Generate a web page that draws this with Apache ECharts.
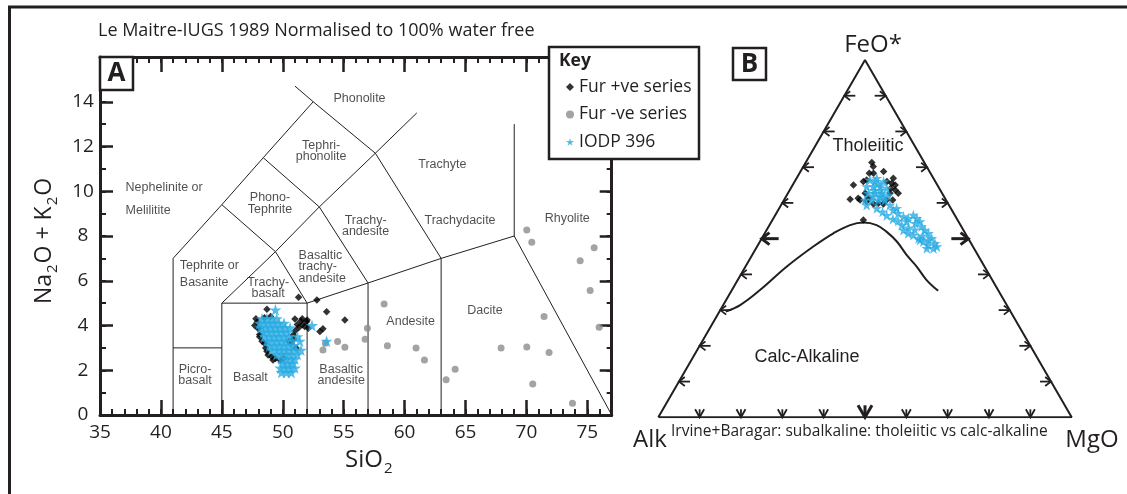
<!DOCTYPE html>
<html><head><meta charset="utf-8">
<script src="https://cdn.jsdelivr.net/npm/echarts@6/dist/echarts.min.js"></script>
<style>html,body{margin:0;padding:0;background:#fff}#c{width:1127px;height:494px}</style>
</head><body><div id="c"></div>
<script>
// ---------------- DATA ----------------
// TAS axis range / ticks
const tasSiO2Range = [35, 77];
const tasAlkRange = [0, 16];
// TAS classification field boundaries (SiO2, Na2O+K2O), Le Maitre 1989
const tasFieldLines = [
  [[41,0],[41,7],[45,9.4],[48.4,11.5],[52.5,14]],
  [[51,14.7],[52.5,14],[57.6,11.7],[63,7]],
  [[41,3],[45,3]],
  [[45,0],[45,5],[52,5]],
  [[52,5],[52,0]],
  [[45,5],[49.4,7.3],[52,5]],
  [[52,5],[57,5.9],[63,7],[69,8],[77,0]],
  [[57,0],[57,5.9]],
  [[63,0],[63,7]],
  [[45,9.4],[49.4,7.3],[53,9.3],[57,5.9]],
  [[48.4,11.5],[53,9.3],[57.6,11.7],[61,13.5]],
  [[69,8],[69,13]]
];
// TAS field names and anchor (SiO2, alkali); align
const tasLabelText = ['Phonolite','Tephri-\nphonolite','Trachyte','Nephelinite or','Melilitite','Phono-\nTephrite','Trachy-\nandesite','Trachydacite','Rhyolite','Tephrite or','Basanite','Basaltic\ntrachy-\nandesite','Trachy-\nbasalt','Andesite','Dacite','Picro-\nbasalt','Basalt','Basaltic\nandesite'];
const tasLabelSiO2 = [56.3,53.15,63.1,37.1,37.1,48.95,56.8,64.55,73.35,41.55,41.55,51.3,48.8,60.5,66.6,42.8,47.35,54.8];
const tasLabelAlk  = [14.15,11.8,11.2,10.15,9.15,9.45,8.45,8.7,8.8,6.66,5.9,6.63,5.67,4.17,4.65,1.79,1.69,1.79];
const tasLabelAlign = ['center','center','center','left','left','center','center','center','center','left','left','left','center','center','center','center','center','center'];

// Fur +ve series (black diamonds) in TAS
const furPosSiO2 = [48.7,51.3,52.8,53.6,55.1,51.0,53.05,53.3,47.8,47.9,47.7,48.0,48.1,48.1,48.3,48.5,48.6,48.7,48.8,49.1,49.4,49.8,50.7,50.85,51.0,51.3,51.6,51.95,52.1,51.8,51.5,51.2,50.9,51.1,50.5,49.0,48.5,51.6,52.0,49.2,50.05];
const furPosAlk  = [4.73,5.26,5.14,4.62,4.25,4.29,3.73,3.85,4.3,4.15,4.0,3.85,3.6,3.5,3.3,3.2,3.0,2.85,2.68,2.6,2.53,2.45,3.2,3.58,3.75,3.9,4.03,4.17,3.88,3.95,4.2,4.05,3.4,3.0,3.3,4.4,4.35,4.3,4.25,2.46,2.53];
// Fur -ve series (grey circles) in TAS
const furNegSiO2 = [70.03,70.44,75.56,74.41,75.23,58.32,56.95,56.76,58.59,60.94,61.63,64.15,63.41,71.45,75.97,67.92,70.03,71.86,70.52,73.78,54.5,55.1,53.5,53.3];
const furNegAlk  = [8.27,7.72,7.48,6.89,5.56,4.96,3.88,3.39,3.10,3.00,2.46,2.04,1.57,4.40,3.92,3.00,3.04,2.79,1.39,0.52,3.28,3.03,3.21,2.91];
// IODP 396 (blue stars) in TAS
const iodpSiO2 = [49.4, 48.3,48.7,49.1,49.5, 48.1,48.5,48.9,49.3,49.7,50.1, 48.2,48.6,49.0,49.4,49.8,50.2,50.6, 48.4,48.8,49.2,49.6,50.0,50.4, 48.5,48.9,49.3,49.7,50.1,50.5,51.2, 48.7,49.1,49.5,49.9,50.3,50.8,51.4, 48.9,49.3,49.7,50.1,50.5,50.9, 49.1,49.5,49.9,50.3,50.7,51.1,51.5, 49.5,49.9,50.3,50.7,51.2, 49.9,50.3,50.7,51.0, 50.0,50.4,50.8, 49.8,50.2,50.6,51.0, 49.9,50.3,50.7, 52.4,53.6];
const iodpAlk  = [4.7, 4.3,4.3,4.3,4.3, 4.1,4.1,4.1,4.1,4.1,4.1, 3.9,3.9,3.9,3.9,3.9,3.9,3.9, 3.7,3.7,3.7,3.7,3.7,3.7, 3.5,3.5,3.5,3.5,3.5,3.5,3.5, 3.3,3.3,3.3,3.3,3.3,3.3,3.3, 3.1,3.1,3.1,3.1,3.1,3.1, 2.9,2.9,2.9,2.9,2.9,2.9,2.9, 2.7,2.7,2.7,2.7,2.7, 2.5,2.5,2.5,2.5, 2.3,2.3,2.3, 2.1,2.1,2.1,2.1, 1.9,1.9,1.9, 4.0,3.3];

// AFM ternary (Irvine & Baragar): FeO* % and MgO % (Alk = 100 - FeO* - MgO)
const ternTickValues = [10,20,30,40,50,60,70,80,90];
const ternCurveFeO = [29.6,31.4,35.6,42.2,47.8,51.5,53.8,54.5,53.8,51.9,49.2,45.4,42.2,38.4,35.4];
const ternCurveMgO = [1.5,4.1,6.8,10.0,13.6,16.6,19.5,22.4,25.9,29.3,33.1,37.4,41.4,45.7,50.0];
const afmFurPosFeO = [71.3,70.2,68.3,68.8,66.9,65.5,63.6,62.7,65.0,61.0,61.3,60.4,59.7,59.7,60.8,55.2,65.0,66.4,62.7,62.7,59.9,66.0,66.0,60.8,68.3,61.3,60.8,64.1];
const afmFurPosMgO = [16.0,16.9,16.9,20.1,23.4,23.7,25.5,26.7,14.7,15.9,17.7,20.2,22.2,24.6,24.8,22.0,24.8,17.2,18.7,24.7,23.3,16.6,22.3,18.4,17.9,20.2,26.3,24.2];
const afmIodpFeO = [66.4,66.9,66.0,64.6,64.6,64.6,64.1,62.7,62.7,62.7,62.2,60.8,60.8,60.8,60.8,66.0,61.8,61.8,59.4,58.5,59.4,58.0,57.1,56.2,58.5,55.7,56.6,55.7,54.8,54.3,53.4,52.4,51.5,50.1,48.7,47.8,54.8,52.4,51.5,51.0,50.1,49.2,48.2,47.3,47.3,49.6,63.5,65.3,61.5,63.5,57.5,56.5,55.5,55.0,53.8,53.0,52.5,50.8,49.6];
const afmIodpMgO = [18.0,19.4,21.5,18.1,19.7,21.4,23.2,19.5,21.1,22.7,24.5,21.2,22.8,24.4,19.6,19.4,22.8,21.1,20.7,23.6,26.3,27.8,29.5,31.2,28.4,32.6,33.4,34.7,35.9,35.0,37.0,38.3,39.6,41.1,42.6,43.5,32.7,33.1,34.7,36.2,37.9,39.5,41.2,42.9,41.3,38.5,20.5,20.5,23.7,22.0,25.5,27.0,29.0,30.5,32.0,34.0,35.8,38.5,40.5];
// ternary vertices as (FeO*, MgO)
const ternVertFeO = [0, 0, 100, 0];
const ternVertMgO = [0, 100, 0, 0];

const seriesNames = ['Fur +ve series', 'Fur -ve series', 'IODP 396'];

// ---------------- HELPERS ----------------
const INK = '#231f20';
const FONT = "'Open Sans', sans-serif";
const ARIAL = "'Liberation Sans', Arial, sans-serif";
const H = Math.sqrt(3) / 2 * 100;
const STAR = 'path://M50 0 L61.2 34.5 L97.6 34.5 L68.2 55.9 L79.4 90.5 L50 69.1 L20.6 90.5 L31.8 55.9 L2.4 34.5 L38.8 34.5 Z';
const zip = (a, b) => a.map((v, i) => [v, b[i]]);
const tern = (F, M) => [M + F / 2, F * Math.sqrt(3) / 2];
const ternZip = (F, M) => F.map((f, i) => tern(f, M[i]));

function xAx(pos, interval, len, w, opts) {
  return Object.assign({
    gridIndex: 0, type: 'value', position: pos, min: tasSiO2Range[0], max: tasSiO2Range[1], interval: interval,
    axisLine: { show: false, onZero: false }, splitLine: { show: false },
    axisTick: { show: true, inside: true, length: len, lineStyle: { color: INK, width: w } },
    axisLabel: { show: false }
  }, opts || {});
}
function yAx(pos, interval, len, w, opts) {
  return Object.assign({
    gridIndex: 0, type: 'value', position: pos, min: tasAlkRange[0], max: tasAlkRange[1], interval: interval,
    axisLine: { show: false, onZero: false }, splitLine: { show: false },
    axisTick: { show: true, inside: true, length: len, lineStyle: { color: INK, width: w } },
    axisLabel: { show: false }
  }, opts || {});
}
const axLine = { show: true, onZero: false, lineStyle: { color: INK, width: 3 } };

const ternTickData = [];
[0, 1, 2].forEach(s => ternTickValues.forEach(t => ternTickData.push([s, t])));

const chart = echarts.init(document.getElementById('c'), null, { renderer: 'canvas' });
chart.setOption({
  animation: false,
  backgroundColor: '#fff',
  grid: [
    { left: 100, top: 57, width: 511.7, height: 358, containLabel: false, outerBoundsMode: 'none' },
    { left: 658.3, top: 60, width: 413.4, height: 357.3, containLabel: false, outerBoundsMode: 'none' }
  ],
  xAxis: [
    xAx('bottom', 5, 15, 2.5, {
      axisLine: axLine,
      axisLabel: { show: true, margin: 8, fontSize: 19, color: INK, fontFamily: FONT, showMaxLabel: false,
        formatter: v => (v % 5 === 0 ? String(v) : '') },
      name: '{m|SiO}{s|2}', nameLocation: 'middle', nameGap: 30,
      nameTextStyle: { color: INK, padding: [0, 0, 0, 26],
        rich: { m: { fontSize: 24, fontFamily: FONT, color: INK }, s: { fontSize: 15, fontFamily: FONT, color: INK, padding: [16, 0, 0, 1] } } }
    }),
    xAx('bottom', 1, 6, 2),
    xAx('top', 5, 15, 2.5, { axisLine: axLine }),
    xAx('top', 1, 6, 2),
    { gridIndex: 1, type: 'value', min: 0, max: 100, show: false }
  ],
  yAxis: [
    yAx('left', 2, 13, 2.5, {
      axisLine: axLine,
      axisLabel: { show: true, margin: 17, align: 'center', fontSize: 19, color: INK, fontFamily: FONT, showMaxLabel: false,
        formatter: v => (v < 16 ? String(v) : '') },
      name: '{m|Na}{s|2}{m|O + K}{s|2}{m|O}', nameLocation: 'middle', nameRotate: 90, nameGap: 40,
      nameTextStyle: { color: INK, padding: [0, 10, 0, 0],
        rich: { m: { fontSize: 23, fontFamily: FONT, color: INK }, s: { fontSize: 15, fontFamily: FONT, color: INK, padding: [16, 1, 0, 1] } } }
    }),
    yAx('left', 1, 6, 2),
    yAx('right', 2, 12, 2.5, { axisLine: axLine }),
    yAx('right', 1, 5, 2),
    { gridIndex: 1, type: 'value', min: 0, max: H, show: false }
  ],
  legend: {
    orient: 'vertical', left: 566, top: 77, padding: 0, itemWidth: 8, itemHeight: 8, itemGap: 7.5,
    selectedMode: false, z: 60,
    textStyle: { fontSize: 17.5, fontFamily: FONT, color: INK, lineHeight: 20 },
    data: [
      { name: seriesNames[0], icon: 'diamond', itemStyle: { color: '#000' } },
      { name: seriesNames[1], icon: 'circle', itemStyle: { color: '#8c8c8c' } },
      { name: seriesNames[2], icon: STAR, itemStyle: { color: '#29abe2' } }
    ]
  },
  series: [
    { type: 'lines', coordinateSystem: 'cartesian2d', xAxisIndex: 0, yAxisIndex: 0, polyline: true, silent: true, z: 2,
      lineStyle: { color: INK, width: 1, opacity: 1 },
      data: tasFieldLines.map(c => ({ coords: c })) },
    { type: 'scatter', xAxisIndex: 0, yAxisIndex: 0, symbolSize: 0, silent: true, z: 3,
      label: { show: true, position: 'inside', formatter: '{b}', fontSize: 12.5, lineHeight: 11.5, fontFamily: ARIAL, color: INK },
      data: tasLabelText.map((t, i) => ({ name: t, value: [tasLabelSiO2[i], tasLabelAlk[i]], label: { align: tasLabelAlign[i] } })) },
    { name: seriesNames[1], type: 'scatter', xAxisIndex: 0, yAxisIndex: 0, symbol: 'circle', symbolSize: 7, z: 4,
      itemStyle: { color: '#8c8c8c' }, data: zip(furNegSiO2, furNegAlk) },
    { name: seriesNames[0], type: 'scatter', xAxisIndex: 0, yAxisIndex: 0, symbol: 'diamond', symbolSize: 7.5, z: 5,
      itemStyle: { color: '#000' }, data: zip(furPosSiO2, furPosAlk) },
    { name: seriesNames[2], type: 'scatter', xAxisIndex: 0, yAxisIndex: 0, symbol: STAR, symbolSize: 12, z: 6,
      itemStyle: { color: '#29abe2' }, data: zip(iodpSiO2, iodpAlk) },
    // ternary
    { type: 'line', xAxisIndex: 4, yAxisIndex: 4, symbol: 'none', silent: true, z: 2,
      lineStyle: { color: INK, width: 2 }, data: ternZip(ternVertFeO, ternVertMgO) },
    { type: 'custom', xAxisIndex: 4, yAxisIndex: 4, silent: true, z: 2, data: ternTickData,
      renderItem: (params, api) => {
        const side = api.value(0), t = api.value(1);
        const big = t === 50;
        const pt = side === 0 ? tern(0, t) : side === 1 ? tern(t, 0) : tern(t, 100 - t);
        const p = api.coord(pt);
        const L = big ? 17 : 11, h = big ? 6 : 4.5;
        let stem, head;
        if (side === 0) {
          const bh = big ? 12 : 8, bw = big ? 7 : 4.5;
          stem = [[p[0], p[1]], [p[0], p[1] - bh]];
          head = [[p[0] - bw, p[1] - bh], [p[0], p[1]], [p[0] + bw, p[1] - bh]];
        } else if (side === 1) {
          stem = [[p[0], p[1]], [p[0] + L, p[1]]];
          head = [[p[0] + h * 1.3, p[1] - h], [p[0], p[1]], [p[0] + h * 1.3, p[1] + h]];
        } else {
          stem = [[p[0], p[1]], [p[0] - L, p[1]]];
          head = [[p[0] - h * 1.3, p[1] - h], [p[0], p[1]], [p[0] - h * 1.3, p[1] + h]];
        }
        const st = { stroke: INK, lineWidth: big ? 3 : 1.8, fill: null };
        return { type: 'group', children: [
          { type: 'polyline', shape: { points: stem }, style: st },
          { type: 'polyline', shape: { points: head }, style: st }
        ] };
      } },
    { type: 'line', xAxisIndex: 4, yAxisIndex: 4, symbol: 'none', smooth: 0.4, silent: true, z: 2,
      lineStyle: { color: INK, width: 2 }, data: ternZip(ternCurveFeO, ternCurveMgO) },
    { name: seriesNames[0], type: 'scatter', xAxisIndex: 4, yAxisIndex: 4, symbol: 'diamond', symbolSize: 7.5, z: 5,
      itemStyle: { color: '#000' }, data: ternZip(afmFurPosFeO, afmFurPosMgO) },
    { name: seriesNames[2], type: 'scatter', xAxisIndex: 4, yAxisIndex: 4, symbol: STAR, symbolSize: 11, z: 6,
      itemStyle: { color: '#29abe2' }, data: ternZip(afmIodpFeO, afmIodpMgO) }
  ],
  graphic: [
    { type: 'line', z: 50, shape: { x1: 8, y1: 7, x2: 1127, y2: 7 }, style: { stroke: INK, lineWidth: 3 } },
    { type: 'line', z: 50, shape: { x1: 9.5, y1: 6, x2: 9.5, y2: 494 }, style: { stroke: INK, lineWidth: 3 } },
    { type: 'text', z: 50, x: 98, y: 31, style: { text: 'Le Maitre-IUGS 1989 Normalised to 100% water free', fontSize: 18, fontFamily: FONT, fill: INK, align: 'left', verticalAlign: 'middle', textAlign: 'left', textVerticalAlign: 'middle' } },
    { type: 'rect', z: 50, shape: { x: 100, y: 57, width: 33, height: 33 }, style: { fill: '#fff', stroke: INK, lineWidth: 2.5 } },
    { type: 'text', z: 51, x: 116.5, y: 74, style: { text: 'A', fontSize: 26, fontWeight: 'bold', fontFamily: FONT, fill: INK, align: 'center', verticalAlign: 'middle', textAlign: 'center', textVerticalAlign: 'middle' } },
    { type: 'rect', z: 50, shape: { x: 549, y: 47, width: 150, height: 112 }, style: { fill: '#fff', stroke: INK, lineWidth: 2.5 } },
    { type: 'text', z: 51, x: 559, y: 61, style: { text: 'Key', fontSize: 17.5, fontWeight: 'bold', fontFamily: FONT, fill: INK, align: 'left', verticalAlign: 'middle', textAlign: 'left', textVerticalAlign: 'middle' } },
    { type: 'rect', z: 50, shape: { x: 733, y: 48, width: 33, height: 32 }, style: { fill: '#fff', stroke: INK, lineWidth: 2.5 } },
    { type: 'text', z: 51, x: 749.5, y: 64.5, style: { text: 'B', fontSize: 26, fontWeight: 'bold', fontFamily: FONT, fill: INK, align: 'center', verticalAlign: 'middle', textAlign: 'center', textVerticalAlign: 'middle' } },
    { type: 'text', z: 50, x: 873, y: 45.5, style: { text: 'FeO*', fontSize: 24, fontFamily: FONT, fill: INK, align: 'center', verticalAlign: 'middle', textAlign: 'center', textVerticalAlign: 'middle' } },
    { type: 'text', z: 50, x: 650, y: 440, style: { text: 'Alk', fontSize: 24, fontFamily: FONT, fill: INK, align: 'center', verticalAlign: 'middle', textAlign: 'center', textVerticalAlign: 'middle' } },
    { type: 'text', z: 50, x: 1092, y: 440, style: { text: 'MgO', fontSize: 24, fontFamily: FONT, fill: INK, align: 'center', verticalAlign: 'middle', textAlign: 'center', textVerticalAlign: 'middle' } },
    { type: 'text', z: 50, x: 671, y: 432, style: { text: 'Irvine+Baragar: subalkaline: tholeiitic vs calc-alkaline', fontSize: 15.5, fontFamily: FONT, fill: INK, align: 'left', verticalAlign: 'middle', textAlign: 'left', textVerticalAlign: 'middle' } },
    { type: 'text', z: 50, x: 868, y: 146, style: { text: 'Tholeiitic', fontSize: 18, fontFamily: ARIAL, fill: INK, align: 'center', verticalAlign: 'middle', textAlign: 'center', textVerticalAlign: 'middle' } },
    { type: 'text', z: 50, x: 807, y: 357, style: { text: 'Calc-Alkaline', fontSize: 18, fontFamily: ARIAL, fill: INK, align: 'center', verticalAlign: 'middle', textAlign: 'center', textVerticalAlign: 'middle' } }
  ]
});
</script></body></html>
